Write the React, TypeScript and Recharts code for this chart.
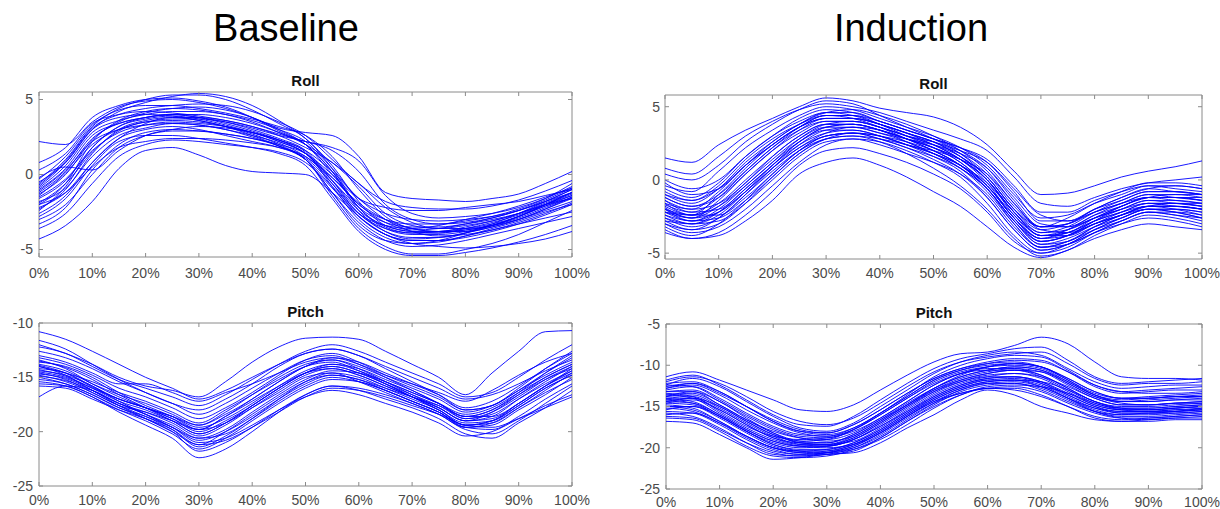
import { LineChart, Line, XAxis, YAxis, ReferenceArea } from 'recharts';

// gait-cycle sample points (% of cycle)
const PCT = [0, 5, 10, 15, 20, 25, 30, 35, 40, 45, 50, 55, 60, 65, 70, 75, 80, 85, 90, 95, 100];
const X_TICKS = [0, 10, 20, 30, 40, 50, 60, 70, 80, 90, 100];

// Baseline - Roll (deg), one row per trial
const baseRoll = [
  [2.2, 2.0, 3.5, 4.5, 4.9, 5.0, 4.8, 4.4, 3.8, 3.1, 2.8, 2.6, 1.2, -1.2, -1.6, -1.7, -1.8, -1.6, -1.3, -0.6, 0.2],
  [-4.3, -3.4, -1.8, 0.4, 1.6, 1.8, 1.3, 0.6, 0.2, 0.1, 0.0, -1.2, -2.8, -4.0, -4.6, -4.8, -4.9, -4.8, -4.6, -4.3, -3.8],
  [-2.0, -0.6, 2.2, 3.6, 4.2, 4.4, 4.3, 4.0, 3.5, 2.8, 2.0, 0.2, -2.4, -3.8, -4.3, -4.2, -3.9, -3.5, -3.0, -2.3, -1.6],
  [-0.5, 0.8, 3.0, 4.2, 4.8, 5.2, 5.4, 5.2, 4.6, 3.6, 2.4, 0.6, -1.8, -3.4, -3.8, -3.9, -3.7, -3.4, -2.8, -2.0, -1.2],
  [-1.5, -0.3, 1.6, 2.8, 3.3, 3.5, 3.4, 3.2, 2.8, 2.3, 1.5, -0.8, -3.0, -4.2, -4.6, -4.5, -4.1, -3.6, -3.1, -2.5, -2.0],
  [-2.6, -1.4, 0.8, 2.4, 3.0, 3.2, 3.0, 2.6, 2.2, 1.8, 1.0, -1.4, -3.6, -4.8, -5.3, -5.3, -5.0, -4.6, -4.0, -3.2, -2.4],
  [0.3, 1.4, 3.4, 4.0, 4.2, 4.1, 3.9, 3.6, 3.2, 2.7, 2.2, 1.8, 0.9, -1.4, -2.6, -2.9, -2.8, -2.6, -2.2, -1.6, -0.8],
  [-1.0, 0.4, 2.6, 3.4, 3.8, 4.0, 3.8, 3.5, 3.0, 2.4, 1.6, -0.4, -2.6, -3.6, -3.9, -3.8, -3.6, -3.3, -2.8, -2.1, -1.4],
  [-3.3, -2.2, 0.3, 2.0, 2.8, 3.0, 2.9, 2.7, 2.4, 1.9, 1.0, -1.2, -3.2, -4.4, -4.8, -4.7, -4.4, -4.0, -3.6, -3.2, -2.8],
  [0.8, 1.8, 3.8, 4.6, 5.0, 5.1, 4.9, 4.5, 3.8, 2.9, 2.0, 0.0, -2.0, -3.0, -3.3, -3.3, -3.1, -2.8, -2.3, -1.6, -0.6],
  [-1.8, -0.9, 1.2, 2.6, 3.1, 3.4, 3.3, 3.0, 2.6, 2.1, 1.2, -0.2, -1.9, -3.0, -3.6, -3.8, -3.8, -3.5, -3.0, -2.3, -1.5],
  [-0.2, 0.5, 0.3, 1.6, 2.6, 3.0, 3.2, 3.1, 2.8, 2.2, 1.4, -0.6, -2.8, -4.0, -4.4, -4.4, -4.2, -3.8, -3.3, -2.7, -2.0],
  [-1.2, 0.2, 2.4, 3.4, 3.8, 4.0, 4.0, 3.8, 3.4, 2.8, 2.0, 0.8, -0.8, -2.6, -3.4, -3.6, -3.4, -3.1, -2.6, -1.9, -1.2],
  [-2.3, -1.0, 1.4, 3.0, 3.6, 3.8, 3.6, 3.2, 2.7, 2.0, 1.0, -1.2, -3.4, -4.4, -4.6, -4.4, -3.9, -3.3, -2.6, -1.8, -1.0],
  [-0.8, 0.8, 3.0, 3.8, 4.0, 3.9, 3.6, 3.2, 2.6, 1.9, 1.0, -0.8, -2.6, -3.4, -3.6, -3.4, -3.0, -2.6, -2.1, -1.5, -0.9],
  [-1.4, 0.1, 2.0, 3.0, 3.5, 3.7, 3.7, 3.5, 3.1, 2.6, 2.2, 1.6, 0.2, -2.0, -3.0, -3.3, -3.2, -2.9, -2.4, -1.8, -1.2],
  [-2.8, -1.6, 0.6, 2.2, 2.6, 2.6, 2.4, 2.1, 1.8, 1.4, 0.6, -1.6, -3.8, -5.0, -5.4, -5.4, -5.2, -4.9, -4.5, -4.0, -3.4],
  [-0.6, 1.0, 3.2, 4.4, 5.0, 5.3, 5.3, 5.0, 4.3, 3.4, 2.4, 0.4, -2.2, -3.6, -4.0, -4.0, -3.8, -3.4, -2.8, -2.0, -1.2],
  [-1.6, -0.4, 1.8, 3.2, 3.8, 4.0, 3.8, 3.4, 2.9, 2.3, 1.4, -0.4, -2.4, -3.4, -3.8, -3.8, -3.5, -3.1, -2.6, -2.0, -1.4],
  [-2.0, -1.2, 0.5, 1.8, 2.2, 2.4, 2.4, 2.3, 2.1, 1.8, 1.2, -0.4, -2.2, -3.2, -3.5, -3.5, -3.3, -3.0, -2.6, -2.0, -1.6],
  [-0.9, 0.6, 2.8, 3.6, 4.0, 4.2, 4.2, 4.0, 3.6, 3.0, 2.2, 0.4, -1.6, -2.6, -3.0, -3.1, -3.0, -2.8, -2.4, -1.8, -1.0],
  [-3.0, -2.0, 0.0, 1.8, 2.6, 2.9, 2.9, 2.7, 2.4, 2.0, 1.4, 0.0, -1.6, -2.2, -2.4, -2.4, -2.2, -2.0, -1.8, -1.4, -1.0],
  [-1.3, 0.0, 2.3, 3.5, 4.1, 4.4, 4.5, 4.3, 3.8, 3.0, 2.0, 0.2, -2.2, -3.5, -3.9, -3.9, -3.6, -3.2, -2.7, -2.0, -1.3],
  [-2.4, -0.8, 1.8, 3.2, 3.7, 3.9, 3.7, 3.3, 2.8, 2.2, 1.4, -0.2, -2.0, -3.2, -3.7, -3.6, -3.3, -2.9, -2.4, -1.7, -0.9],
  [-0.3, 1.2, 3.3, 4.3, 4.6, 4.6, 4.4, 4.1, 3.7, 3.2, 2.6, 1.2, -1.0, -2.8, -3.6, -3.8, -3.7, -3.4, -2.9, -2.2, -1.5],
  [-1.9, -0.6, 1.5, 2.9, 3.5, 3.6, 3.5, 3.2, 2.8, 2.3, 1.6, 0.2, -1.6, -3.0, -3.8, -4.1, -4.0, -3.7, -3.2, -2.6, -1.9],
  [-3.6, -2.6, -0.6, 1.2, 2.0, 2.3, 2.2, 2.0, 1.8, 1.5, 0.8, -0.9, -2.8, -4.0, -4.4, -4.4, -4.1, -3.7, -3.3, -2.9, -2.5],
  [-0.7, 0.9, 3.1, 4.0, 4.4, 4.6, 4.7, 4.6, 4.2, 3.5, 2.6, 1.0, -0.6, -1.8, -2.2, -2.3, -2.3, -2.1, -1.7, -1.1, -0.4],
  [-1.1, 0.3, 2.2, 3.0, 3.3, 3.4, 3.3, 3.0, 2.5, 1.9, 1.1, -0.6, -2.6, -3.8, -4.2, -4.2, -3.9, -3.4, -2.8, -2.1, -1.6],
  [-2.2, -1.2, 0.8, 2.4, 3.4, 3.8, 3.8, 3.6, 3.2, 2.6, 1.8, 0.8, -0.6, -2.2, -3.2, -3.6, -3.6, -3.4, -3.0, -2.4, -1.8],
];

// Baseline - Pitch (deg)
const basePitch = [
  [-10.8, -11.5, -12.6, -13.8, -15.0, -16.0, -17.0, -16.2, -15.0, -13.8, -12.8, -12.4, -13.0, -14.0, -15.0, -16.0, -17.0, -16.6, -15.6, -14.4, -13.4],
  [-12.0, -12.8, -13.8, -15.0, -15.8, -16.2, -16.8, -15.4, -13.6, -12.2, -11.4, -11.3, -11.5, -12.6, -13.8, -15.0, -16.6, -14.6, -12.6, -10.8, -10.7],
  [-13.6, -14.0, -15.0, -16.4, -17.6, -18.6, -19.8, -18.6, -17.0, -15.4, -14.0, -13.4, -14.2, -15.4, -16.6, -17.8, -19.0, -18.6, -17.0, -15.4, -14.0],
  [-14.2, -14.6, -15.8, -17.0, -17.8, -18.8, -20.0, -19.0, -17.6, -16.0, -14.6, -14.0, -14.6, -15.6, -16.6, -17.6, -18.8, -18.4, -17.0, -15.6, -14.4],
  [-15.0, -15.6, -16.6, -17.8, -18.6, -19.6, -20.8, -20.0, -18.6, -17.0, -15.6, -14.8, -15.2, -16.2, -17.2, -18.2, -19.6, -19.2, -17.8, -16.4, -15.2],
  [-13.2, -13.8, -14.8, -16.0, -16.8, -17.8, -18.8, -17.8, -16.4, -14.8, -13.4, -12.8, -13.6, -14.8, -15.8, -16.8, -18.0, -17.6, -16.2, -14.6, -13.2],
  [-16.8, -15.8, -16.2, -17.4, -18.4, -19.6, -21.0, -20.6, -19.4, -18.0, -16.8, -16.2, -16.6, -17.4, -18.2, -19.2, -20.4, -20.0, -18.8, -17.6, -16.6],
  [-14.6, -15.2, -16.4, -17.6, -18.6, -19.8, -21.4, -20.4, -18.8, -17.0, -15.4, -14.6, -15.0, -16.0, -17.0, -18.0, -19.4, -19.0, -17.6, -16.0, -14.8],
  [-13.8, -14.4, -15.6, -16.6, -17.4, -18.4, -19.4, -18.4, -17.0, -15.4, -14.0, -13.2, -13.6, -14.6, -15.6, -16.6, -17.8, -17.2, -15.8, -14.2, -12.8],
  [-15.4, -15.8, -16.8, -18.2, -19.4, -20.6, -22.4, -21.6, -20.0, -18.2, -16.6, -15.8, -16.2, -17.0, -17.8, -18.8, -20.2, -20.6, -19.2, -17.8, -16.2],
  [-14.0, -14.8, -16.2, -17.4, -18.2, -19.2, -20.4, -19.4, -17.8, -16.2, -14.8, -14.2, -14.8, -15.8, -16.8, -17.8, -19.0, -18.8, -17.4, -15.8, -14.6],
  [-12.6, -13.2, -14.2, -15.4, -16.4, -17.4, -18.4, -17.4, -16.0, -14.6, -13.4, -13.0, -13.8, -15.0, -16.2, -17.4, -18.6, -18.0, -16.4, -14.6, -13.0],
  [-14.8, -15.4, -16.4, -17.6, -18.2, -19.0, -19.8, -18.6, -17.2, -15.8, -14.6, -14.2, -14.8, -15.8, -16.8, -17.8, -19.0, -18.2, -16.6, -15.0, -13.8],
  [-13.4, -14.2, -15.6, -16.8, -17.8, -18.8, -19.8, -19.2, -17.8, -16.4, -15.0, -14.6, -15.4, -16.4, -17.4, -18.4, -19.6, -19.4, -18.0, -16.6, -15.0],
  [-15.8, -16.0, -17.0, -18.0, -18.8, -19.8, -21.2, -20.8, -19.6, -18.2, -16.8, -16.0, -16.2, -16.8, -17.6, -18.4, -19.4, -19.6, -18.8, -17.8, -16.8],
  [-11.6, -12.4, -13.8, -15.2, -16.4, -17.4, -18.0, -17.0, -15.6, -14.0, -12.8, -12.4, -13.0, -14.2, -15.4, -16.6, -18.0, -17.6, -16.0, -14.2, -12.6],
  [-14.4, -14.8, -15.8, -17.2, -18.4, -19.6, -20.6, -19.8, -18.2, -16.6, -15.2, -14.4, -14.6, -15.4, -16.4, -17.4, -18.4, -17.8, -16.4, -15.0, -13.8],
  [-14.0, -14.6, -15.4, -16.4, -17.2, -18.2, -19.2, -18.0, -16.6, -15.2, -14.0, -13.6, -14.4, -15.6, -16.8, -18.0, -19.2, -19.0, -17.6, -16.0, -14.8],
  [-13.0, -13.6, -14.6, -15.6, -15.6, -16.4, -17.2, -16.4, -15.6, -14.6, -13.6, -13.2, -13.8, -14.8, -15.6, -16.4, -17.2, -16.2, -14.8, -13.6, -12.8],
  [-15.2, -15.6, -16.6, -17.8, -18.8, -20.0, -21.8, -21.0, -19.6, -18.0, -16.6, -15.8, -16.0, -16.6, -17.4, -18.4, -19.8, -20.2, -19.0, -17.4, -15.8],
  [-14.3, -14.9, -16.0, -17.2, -18.0, -19.0, -20.2, -19.2, -17.6, -16.0, -14.6, -13.8, -14.2, -15.2, -16.2, -17.4, -18.8, -18.2, -16.8, -15.2, -14.0],
  [-13.9, -14.6, -15.9, -17.0, -17.8, -18.6, -19.6, -18.8, -17.4, -15.8, -14.4, -13.8, -14.4, -15.4, -16.4, -17.4, -18.6, -18.6, -17.4, -15.8, -14.2],
  [-15.6, -15.8, -16.8, -18.0, -19.0, -20.2, -21.6, -20.6, -19.0, -17.4, -16.0, -15.2, -15.4, -16.2, -17.2, -18.2, -19.6, -19.8, -18.6, -17.0, -15.6],
  [-14.5, -15.0, -16.0, -17.0, -17.8, -18.6, -19.4, -18.2, -16.6, -15.0, -13.8, -13.4, -14.0, -15.0, -16.0, -17.0, -18.2, -17.6, -16.2, -14.8, -13.6],
  [-12.2, -12.8, -14.0, -15.2, -16.0, -16.8, -17.6, -16.6, -15.2, -13.8, -12.6, -12.0, -12.6, -13.6, -14.6, -15.6, -16.8, -16.4, -15.0, -13.4, -12.0],
  [-14.9, -15.3, -16.2, -17.4, -18.4, -19.4, -20.6, -20.2, -18.8, -17.2, -15.8, -15.0, -15.4, -16.2, -17.2, -18.2, -19.4, -19.0, -17.4, -15.8, -14.4],
  [-13.5, -14.1, -15.2, -16.6, -17.8, -19.0, -20.2, -19.2, -17.6, -16.0, -14.6, -14.0, -14.6, -15.6, -16.8, -18.0, -19.4, -19.2, -17.8, -16.2, -14.6],
  [-14.7, -15.1, -16.2, -17.6, -18.8, -20.0, -21.2, -20.0, -18.4, -16.8, -15.4, -14.8, -15.2, -16.0, -16.8, -17.6, -18.6, -18.0, -16.6, -15.2, -14.2],
];

// Induction - Roll (deg)
const indRoll = [
  [1.5, 1.2, 2.4, 3.4, 4.2, 5.0, 5.6, 5.4, 4.9, 4.6, 4.3, 3.6, 2.4, 0.6, -1.0, -0.9, -0.4, 0.2, 0.6, 0.9, 1.3],
  [-3.6, -4.0, -3.8, -2.8, -1.4, 0.4, 1.2, 1.5, 1.0, 0.2, -0.8, -1.8, -3.2, -4.6, -5.3, -4.8, -4.0, -3.4, -3.0, -3.2, -3.4],
  [-1.8, -2.4, -1.6, 0.0, 1.6, 3.0, 3.8, 3.8, 3.4, 2.8, 2.2, 1.4, 0.0, -2.2, -3.8, -3.4, -2.6, -2.0, -1.6, -1.6, -1.8],
  [-2.6, -3.2, -2.6, -1.0, 0.8, 2.4, 3.4, 3.6, 3.2, 2.6, 1.8, 0.8, -0.8, -3.0, -4.6, -4.2, -3.4, -2.8, -2.2, -2.2, -2.4],
  [-0.4, -0.8, 0.6, 2.2, 3.4, 4.4, 5.0, 4.8, 4.2, 3.6, 3.0, 2.2, 1.0, -1.0, -2.6, -2.4, -1.6, -1.0, -0.4, -0.6, -0.8],
  [-1.2, -1.8, -1.0, 0.6, 2.2, 3.4, 4.0, 4.0, 3.6, 3.0, 2.6, 2.0, 1.2, -0.6, -2.4, -2.8, -2.2, -1.6, -1.2, -1.2, -1.4],
  [-2.2, -2.8, -2.2, -0.8, 0.8, 2.2, 3.0, 3.2, 3.0, 2.4, 1.6, 0.6, -1.2, -3.4, -4.8, -4.4, -3.4, -2.6, -2.0, -2.0, -2.2],
  [0.4, 0.0, 1.0, 2.6, 3.8, 4.8, 5.4, 5.2, 4.4, 3.6, 2.8, 1.8, 0.2, -2.0, -3.2, -2.6, -1.6, -0.8, -0.2, -0.2, -0.4],
  [-3.0, -3.6, -3.2, -2.0, -0.4, 1.2, 2.4, 2.8, 2.6, 2.0, 1.2, 0.2, -1.6, -3.8, -5.0, -4.6, -3.6, -2.8, -2.2, -2.4, -2.8],
  [-1.6, -2.0, -0.8, 1.0, 2.4, 3.6, 4.4, 4.4, 3.8, 3.0, 2.2, 1.2, -0.4, -2.6, -4.0, -3.6, -2.8, -2.2, -1.8, -1.8, -2.0],
  [-2.0, -2.6, -1.8, -0.2, 1.4, 2.8, 3.6, 3.6, 3.2, 2.8, 2.4, 1.8, 0.8, -1.2, -3.0, -3.2, -2.6, -2.0, -1.4, -1.4, -1.6],
  [-2.8, -3.4, -3.0, -1.6, 0.2, 1.8, 2.8, 3.0, 2.6, 1.8, 0.8, -0.4, -2.0, -4.0, -5.2, -4.8, -3.8, -3.0, -2.4, -2.6, -3.0],
  [0.8, 0.4, 1.6, 3.0, 4.0, 4.8, 5.2, 5.0, 4.6, 4.0, 3.4, 2.8, 2.0, 0.2, -1.6, -1.8, -1.2, -0.6, -0.2, 0.0, 0.2],
  [-1.4, -2.2, -2.0, -0.6, 1.0, 2.6, 3.6, 3.8, 3.4, 2.6, 1.8, 0.8, -0.6, -2.8, -4.2, -3.8, -3.0, -2.4, -1.8, -1.6, -1.6],
  [-2.4, -2.8, -2.0, -0.4, 1.2, 2.6, 3.4, 3.4, 3.0, 2.4, 2.0, 1.4, 0.4, -1.6, -3.4, -3.6, -3.0, -2.4, -1.8, -1.8, -2.0],
  [-0.8, -1.4, -0.4, 1.4, 2.8, 3.8, 4.4, 4.2, 3.6, 2.8, 2.0, 1.0, -0.4, -2.6, -4.2, -3.8, -2.8, -1.8, -1.2, -1.0, -1.0],
  [-3.4, -4.0, -3.6, -2.4, -0.8, 1.0, 2.0, 2.2, 1.8, 1.2, 0.4, -0.6, -2.2, -4.2, -5.0, -4.4, -3.4, -2.6, -2.0, -2.2, -2.6],
  [-1.0, -1.6, -0.6, 1.2, 2.6, 3.8, 4.6, 4.6, 4.0, 3.4, 2.8, 2.2, 1.2, -0.8, -2.8, -2.8, -2.0, -1.4, -0.8, -0.8, -1.0],
  [-2.2, -2.6, -1.4, 0.4, 2.0, 3.2, 4.0, 4.0, 3.6, 3.0, 2.4, 1.4, -0.2, -2.6, -4.0, -3.4, -2.4, -1.6, -1.0, -1.2, -1.4],
  [-1.6, -2.4, -2.4, -1.2, 0.4, 2.0, 3.0, 3.2, 2.8, 2.2, 1.6, 0.8, -0.6, -2.8, -4.4, -4.0, -3.2, -2.6, -2.0, -2.0, -2.2],
  [-2.8, -3.0, -2.2, -0.6, 1.0, 2.4, 3.2, 3.4, 3.0, 2.4, 1.8, 1.0, -0.2, -2.2, -3.8, -3.6, -2.8, -2.2, -1.6, -1.8, -2.0],
  [0.0, -0.6, 0.0, 1.6, 3.0, 4.2, 4.8, 4.6, 4.0, 3.4, 2.8, 2.2, 1.4, -0.4, -2.2, -2.2, -1.4, -0.8, -0.4, -0.4, -0.6],
  [-2.0, -2.4, -1.8, -0.4, 1.2, 2.8, 3.8, 4.0, 3.6, 3.0, 2.4, 1.6, 0.2, -2.0, -3.6, -3.4, -2.6, -1.8, -1.2, -1.4, -1.6],
  [-3.2, -3.8, -3.0, -1.4, 0.4, 2.0, 3.0, 3.2, 2.8, 2.2, 1.4, 0.4, -1.2, -3.4, -4.8, -4.4, -3.6, -3.0, -2.6, -2.8, -3.2],
  [-1.2, -1.8, -1.2, 0.4, 2.0, 3.4, 4.2, 4.2, 3.8, 3.2, 2.6, 1.8, 0.4, -1.8, -3.2, -3.0, -2.2, -1.6, -1.0, -1.0, -1.2],
  [-2.4, -3.0, -2.8, -1.6, 0.0, 1.6, 2.6, 2.8, 2.4, 1.8, 1.2, 0.4, -1.0, -3.2, -4.6, -4.2, -3.2, -2.4, -1.8, -2.0, -2.4],
  [-1.7, -2.2, -1.2, 0.6, 2.2, 3.6, 4.4, 4.4, 4.0, 3.4, 2.8, 2.0, 0.8, -1.4, -3.2, -3.2, -2.4, -1.8, -1.2, -1.2, -1.4],
  [-2.6, -3.0, -2.4, -0.8, 1.0, 2.6, 3.6, 3.8, 3.4, 2.8, 2.2, 1.2, -0.4, -2.6, -4.2, -3.8, -2.8, -2.0, -1.4, -1.6, -1.8],
  [-0.6, -1.2, -0.2, 1.6, 3.0, 4.0, 4.6, 4.4, 3.8, 3.2, 2.6, 1.6, 0.0, -2.2, -3.6, -3.2, -2.2, -1.4, -0.8, -0.8, -1.0],
  [-1.9, -2.6, -2.2, -0.8, 0.8, 2.2, 3.2, 3.6, 3.4, 2.8, 2.0, 1.0, -0.6, -2.8, -4.4, -4.2, -3.2, -2.4, -1.8, -1.8, -2.0],
  [-2.2, -2.4, -1.0, 0.8, 2.4, 3.6, 4.2, 4.2, 3.8, 3.2, 2.6, 1.6, 0.2, -2.0, -3.4, -3.0, -2.0, -1.2, -0.6, -0.8, -1.0],
  [-1.4, -2.0, -1.6, -0.2, 1.6, 3.0, 3.8, 3.8, 3.4, 2.8, 2.2, 1.4, 0.0, -2.4, -4.0, -3.8, -3.0, -2.2, -1.6, -1.6, -1.8],
  [-3.0, -3.4, -2.6, -1.0, 0.6, 2.0, 2.8, 3.0, 2.8, 2.4, 1.8, 1.0, -0.4, -2.4, -3.8, -3.8, -3.0, -2.4, -2.0, -2.2, -2.6],
  [-0.2, -1.0, -0.6, 1.0, 2.6, 3.8, 4.6, 4.8, 4.4, 3.8, 3.0, 2.0, 0.6, -1.6, -3.2, -3.0, -2.0, -1.2, -0.6, -0.4, -0.6],
  [-2.0, -2.8, -2.6, -1.4, 0.2, 1.8, 2.8, 3.2, 3.0, 2.6, 2.0, 1.0, -0.6, -3.0, -4.6, -4.4, -3.6, -2.8, -2.2, -2.4, -2.6],
  [-1.0, -1.4, -0.6, 1.0, 2.4, 3.6, 4.2, 4.2, 3.8, 3.2, 2.4, 1.4, 0.0, -2.2, -3.8, -3.6, -2.6, -1.8, -1.2, -1.2, -1.2],
];

// Induction - Pitch (deg)
const indPitch = [
  [-11.4, -10.8, -11.8, -13.0, -14.2, -15.4, -15.6, -14.8, -13.0, -11.2, -9.6, -8.6, -8.4, -7.6, -6.6, -7.4, -9.6, -11.4, -11.6, -11.6, -11.8],
  [-16.8, -17.0, -18.4, -20.0, -21.4, -21.2, -20.8, -20.6, -19.4, -17.6, -16.0, -14.2, -13.0, -13.6, -15.0, -15.8, -16.6, -16.8, -16.8, -16.6, -16.6],
  [-13.0, -12.6, -14.0, -15.8, -17.4, -18.4, -18.6, -17.6, -15.8, -13.8, -11.8, -10.6, -9.8, -9.4, -9.6, -10.8, -12.4, -13.2, -13.4, -13.4, -13.2],
  [-14.4, -14.6, -16.0, -17.8, -19.2, -19.8, -19.8, -19.0, -17.4, -15.6, -13.8, -12.4, -11.6, -11.4, -12.0, -13.4, -14.8, -15.4, -15.4, -15.2, -15.0],
  [-12.4, -11.6, -12.6, -14.4, -16.2, -17.6, -18.0, -17.0, -15.0, -13.0, -11.0, -9.6, -8.8, -8.4, -8.8, -10.4, -12.0, -12.8, -12.6, -12.4, -12.4],
  [-15.2, -15.6, -17.0, -18.8, -20.2, -20.8, -20.6, -20.0, -18.6, -16.6, -14.6, -13.0, -12.2, -12.2, -13.0, -14.4, -15.6, -16.0, -15.8, -15.8, -15.6],
  [-13.6, -13.4, -14.8, -16.6, -18.2, -19.2, -19.4, -18.4, -16.6, -14.6, -12.8, -11.4, -10.6, -10.2, -10.6, -12.0, -13.6, -14.4, -14.4, -14.2, -14.2],
  [-14.8, -15.2, -16.8, -18.6, -20.0, -20.4, -20.2, -19.4, -17.8, -15.8, -14.0, -12.6, -11.8, -11.8, -12.6, -14.0, -15.2, -15.6, -15.6, -15.4, -15.4],
  [-12.0, -11.4, -12.2, -13.8, -15.6, -16.8, -17.2, -16.4, -14.6, -12.6, -10.8, -9.6, -9.0, -8.6, -8.4, -9.8, -11.6, -12.4, -12.2, -12.2, -12.0],
  [-15.8, -16.2, -17.6, -19.4, -20.8, -21.0, -20.6, -19.8, -18.2, -16.2, -14.4, -13.4, -12.8, -13.0, -13.8, -15.0, -16.2, -16.6, -16.4, -16.2, -16.0],
  [-13.2, -13.0, -14.4, -16.2, -17.8, -18.8, -19.2, -18.6, -16.8, -14.8, -12.8, -11.2, -10.2, -9.8, -10.2, -11.6, -13.2, -14.0, -14.0, -13.8, -13.8],
  [-14.0, -13.8, -15.2, -17.0, -18.6, -19.6, -19.8, -19.0, -17.2, -15.2, -13.2, -11.8, -11.0, -10.6, -11.2, -12.8, -14.4, -15.0, -15.0, -14.8, -14.6],
  [-11.8, -11.2, -12.4, -14.2, -16.0, -17.2, -17.4, -16.2, -14.2, -12.2, -10.4, -9.2, -8.6, -8.0, -7.8, -9.4, -11.4, -12.2, -12.0, -11.8, -11.6],
  [-16.4, -16.6, -18.0, -19.8, -21.0, -21.2, -21.0, -20.2, -18.8, -16.8, -15.0, -13.6, -12.8, -12.8, -13.6, -15.0, -16.4, -16.8, -16.6, -16.4, -16.4],
  [-14.6, -14.2, -15.4, -17.2, -18.8, -19.4, -19.4, -18.4, -16.6, -14.8, -13.0, -11.8, -11.0, -10.6, -10.8, -12.2, -13.8, -14.6, -14.8, -14.6, -14.6],
  [-13.4, -13.8, -15.6, -17.4, -18.6, -19.0, -18.8, -18.0, -16.4, -14.4, -12.4, -11.0, -10.4, -10.4, -11.2, -12.8, -14.4, -15.2, -15.2, -15.0, -14.8],
  [-15.4, -15.0, -16.2, -18.0, -19.6, -20.4, -20.6, -20.2, -19.0, -17.2, -15.2, -13.6, -12.6, -12.4, -12.6, -13.4, -14.6, -15.4, -15.6, -15.6, -15.4],
  [-12.6, -12.2, -13.4, -15.0, -16.6, -17.8, -18.2, -17.2, -15.4, -13.4, -11.6, -10.4, -9.6, -9.2, -9.4, -10.8, -12.6, -13.4, -13.2, -13.0, -13.0],
  [-14.2, -14.6, -16.2, -18.0, -19.4, -20.0, -19.8, -18.8, -17.0, -15.0, -13.2, -12.0, -11.4, -11.4, -12.2, -13.8, -15.2, -15.8, -15.8, -15.6, -15.2],
  [-16.0, -15.8, -17.0, -18.6, -20.0, -20.6, -20.4, -19.6, -18.0, -16.0, -14.2, -12.8, -12.0, -11.8, -12.4, -14.0, -15.6, -16.4, -16.6, -16.4, -16.2],
  [-12.8, -12.4, -13.6, -15.4, -17.0, -18.2, -18.6, -17.8, -16.0, -14.0, -12.0, -10.8, -10.2, -10.0, -10.4, -12.0, -13.6, -14.2, -14.0, -13.8, -13.6],
  [-13.8, -13.2, -14.4, -16.4, -18.2, -19.4, -19.6, -19.2, -17.6, -15.6, -13.6, -12.2, -11.4, -11.0, -11.4, -12.6, -14.0, -14.8, -14.8, -14.6, -14.4],
  [-15.0, -15.4, -16.8, -18.6, -20.0, -20.6, -20.8, -20.4, -18.8, -16.8, -14.8, -13.2, -12.4, -12.2, -12.8, -14.2, -15.6, -16.2, -16.2, -16.0, -15.8],
  [-12.2, -12.0, -13.2, -15.0, -16.8, -18.0, -18.4, -17.6, -15.8, -13.6, -11.4, -10.0, -9.2, -8.8, -9.0, -10.6, -12.4, -13.2, -13.0, -12.8, -12.6],
  [-14.4, -14.0, -15.0, -16.8, -18.4, -19.2, -19.0, -17.8, -16.0, -14.0, -12.2, -11.0, -10.6, -10.6, -11.4, -13.0, -14.6, -15.2, -15.2, -15.0, -14.8],
  [-13.6, -14.0, -15.8, -17.6, -19.0, -19.8, -20.0, -19.6, -18.2, -16.2, -14.2, -12.8, -12.0, -11.8, -12.0, -13.0, -14.4, -15.2, -15.4, -15.2, -15.0],
  [-13.8, -13.6, -15.0, -16.8, -18.4, -19.4, -19.6, -18.8, -17.0, -15.0, -13.0, -11.6, -10.8, -10.4, -10.8, -12.4, -14.0, -14.8, -14.8, -14.6, -14.4],
  [-14.6, -14.8, -16.2, -18.0, -19.6, -20.2, -20.2, -19.4, -17.8, -15.8, -13.8, -12.4, -11.6, -11.4, -12.0, -13.6, -15.0, -15.6, -15.6, -15.4, -15.2],
  [-12.8, -12.2, -13.2, -15.0, -16.8, -18.0, -18.2, -17.2, -15.4, -13.4, -11.6, -10.4, -9.8, -9.6, -10.2, -11.8, -13.4, -14.0, -13.8, -13.6, -13.4],
  [-15.6, -15.8, -17.2, -19.0, -20.4, -20.8, -20.6, -19.8, -18.2, -16.2, -14.4, -13.0, -12.2, -12.0, -12.6, -14.0, -15.4, -16.0, -16.0, -15.8, -15.6],
  [-14.2, -14.0, -15.4, -17.2, -18.8, -19.6, -19.6, -18.6, -16.8, -14.8, -12.8, -11.4, -10.6, -10.2, -10.6, -12.2, -13.8, -14.4, -14.4, -14.2, -14.0],
  [-13.2, -13.2, -14.8, -16.6, -18.0, -18.8, -19.0, -18.2, -16.4, -14.4, -12.4, -11.0, -10.2, -9.8, -10.2, -11.6, -13.2, -14.0, -14.0, -13.8, -13.8],
  [-15.0, -15.0, -16.4, -18.2, -19.8, -20.4, -20.4, -19.6, -18.0, -16.0, -14.0, -12.6, -11.8, -11.6, -12.2, -13.6, -15.0, -15.8, -15.8, -15.6, -15.4],
  [-12.4, -12.6, -14.2, -16.0, -17.6, -18.6, -18.8, -17.8, -15.8, -13.8, -11.8, -10.6, -10.0, -9.8, -10.2, -11.8, -13.6, -14.4, -14.2, -14.0, -13.8],
  [-16.2, -16.4, -17.8, -19.4, -20.6, -21.0, -20.8, -20.0, -18.4, -16.4, -14.6, -13.4, -12.8, -12.6, -13.2, -14.6, -15.8, -16.4, -16.4, -16.2, -16.0],
  [-14.0, -14.4, -16.0, -17.8, -19.2, -19.8, -19.8, -19.0, -17.4, -15.4, -13.4, -12.0, -11.2, -11.0, -11.6, -13.2, -14.8, -15.4, -15.4, -15.2, -15.0],
];

const FONT = '"Liberation Sans", Arial, Helvetica, sans-serif';
const AXIS = '#8a8a8a';
const LABEL = '#4a4a4a';

type Box = [number, number, number, number]; // left, top, right, bottom of plot area

interface PanelProps {
  title: string;
  curves: number[][];
  box: Box;
  yDomain: [number, number];
  yTicks: number[];
  xGap: number;
  yGap: number;
}

function Panel({ title, curves, box, yDomain, yTicks, xGap, yGap }: PanelProps) {
  const [x0, y0, x1, y1] = box;
  const YW = 40;
  const XH = 30;
  const MT = 10;
  const MR = 25;
  const TL = 4; // inward tick length
  const rows = PCT.map((p, i) => {
    const r: Record<string, number> = { p };
    curves.forEach((c, k) => {
      r['s' + k] = c[i];
    });
    return r;
  });

  // x ticks: label below, inward marks on bottom and top edges
  const xTick = (props: any) => {
    const { x, y, payload } = props;
    const yb = y - xGap;
    return (
      <g>
        <line x1={x} x2={x} y1={yb} y2={yb - TL} stroke={AXIS} />
        <line x1={x} x2={x} y1={MT} y2={MT + TL} stroke={AXIS} />
        <text x={x} y={y} dy="0.71em" textAnchor="middle" fontSize={14} fill={LABEL} fontFamily={FONT}>
          {payload.value}%
        </text>
      </g>
    );
  };

  // y ticks: label on the left, inward marks on left and right edges
  const yTick = (props: any) => {
    const { x, y, payload } = props;
    const xl = x + yGap;
    const xr = xl + (x1 - x0);
    return (
      <g>
        <line x1={xl} x2={xl + TL} y1={y} y2={y} stroke={AXIS} />
        <line x1={xr - TL} x2={xr} y1={y} y2={y} stroke={AXIS} />
        <text x={x} y={y} dy="0.35em" textAnchor="end" fontSize={14} fill={LABEL} fontFamily={FONT}>
          {payload.value}
        </text>
      </g>
    );
  };

  return (
    <>
      <div
        style={{
          position: 'absolute',
          left: x0,
          top: y0 - 20,
          width: x1 - x0,
          textAlign: 'center',
          fontFamily: FONT,
          fontWeight: 'bold',
          fontSize: 15,
          lineHeight: '17px',
          color: '#111',
        }}
      >
        {title}
      </div>
      <div style={{ position: 'absolute', left: x0 - YW, top: y0 - MT }}>
        <LineChart
          width={x1 - x0 + YW + MR}
          height={y1 - y0 + MT + XH}
          data={rows}
          margin={{ top: MT, right: MR, bottom: 0, left: 0 }}
        >
          <XAxis
            xAxisId="b"
            dataKey="p"
            type="number"
            domain={[0, 100]}
            ticks={X_TICKS}
            height={XH}
            tickSize={0}
            tickMargin={xGap}
            tick={xTick}
            axisLine={false}
            tickLine={false}
            interval={0}
          />
          <YAxis
            yAxisId="l"
            type="number"
            domain={yDomain}
            ticks={yTicks}
            allowDataOverflow
            width={YW}
            tickSize={0}
            tickMargin={yGap}
            tick={yTick}
            axisLine={false}
            tickLine={false}
            interval={0}
          />
          {curves.map((_, k) => (
            <Line
              key={k}
              xAxisId="b"
              yAxisId="l"
              dataKey={'s' + k}
              type="monotone"
              stroke="#0000ff"
              strokeWidth={1}
              strokeOpacity={0.9}
              dot={false}
              activeDot={false}
              isAnimationActive={false}
            />
          ))}
          <ReferenceArea
            xAxisId="b"
            yAxisId="l"
            x1={0}
            x2={100}
            y1={yDomain[0]}
            y2={yDomain[1]}
            fill="none"
            stroke={AXIS}
            strokeWidth={1}
            ifOverflow="visible"
          />
        </LineChart>
      </div>
    </>
  );
}

const headStyle = {
  position: 'absolute' as const,
  top: 9,
  width: 300,
  textAlign: 'center' as const,
  fontFamily: FONT,
  fontSize: 38,
  lineHeight: '38px',
  color: '#000',
};

export default function App() {
  return (
    <div
      style={{
        position: 'absolute',
        left: 0,
        top: 0,
        width: 1220,
        height: 509,
        background: '#fff',
        overflow: 'hidden',
      }}
    >
      <div style={{ ...headStyle, left: 286 - 150 }}>Baseline</div>
      <div style={{ ...headStyle, left: 911 - 150 }}>Induction</div>

      <Panel title="Roll" curves={baseRoll} box={[39, 92, 572, 257]} yDomain={[-5.5, 5.5]} yTicks={[-5, 0, 5]} xGap={11} yGap={6} />
      <Panel title="Pitch" curves={basePitch} box={[39, 323, 572, 486]} yDomain={[-25, -10]} yTicks={[-25, -20, -15, -10]} xGap={9} yGap={6} />
      <Panel title="Roll" curves={indRoll} box={[665, 95, 1202, 259]} yDomain={[-5.4, 5.8]} yTicks={[-5, 0, 5]} xGap={9} yGap={5} />
      <Panel title="Pitch" curves={indPitch} box={[666, 324, 1202, 489]} yDomain={[-25, -5]} yTicks={[-25, -20, -15, -10, -5]} xGap={8} yGap={6} />
    </div>
  );
}
